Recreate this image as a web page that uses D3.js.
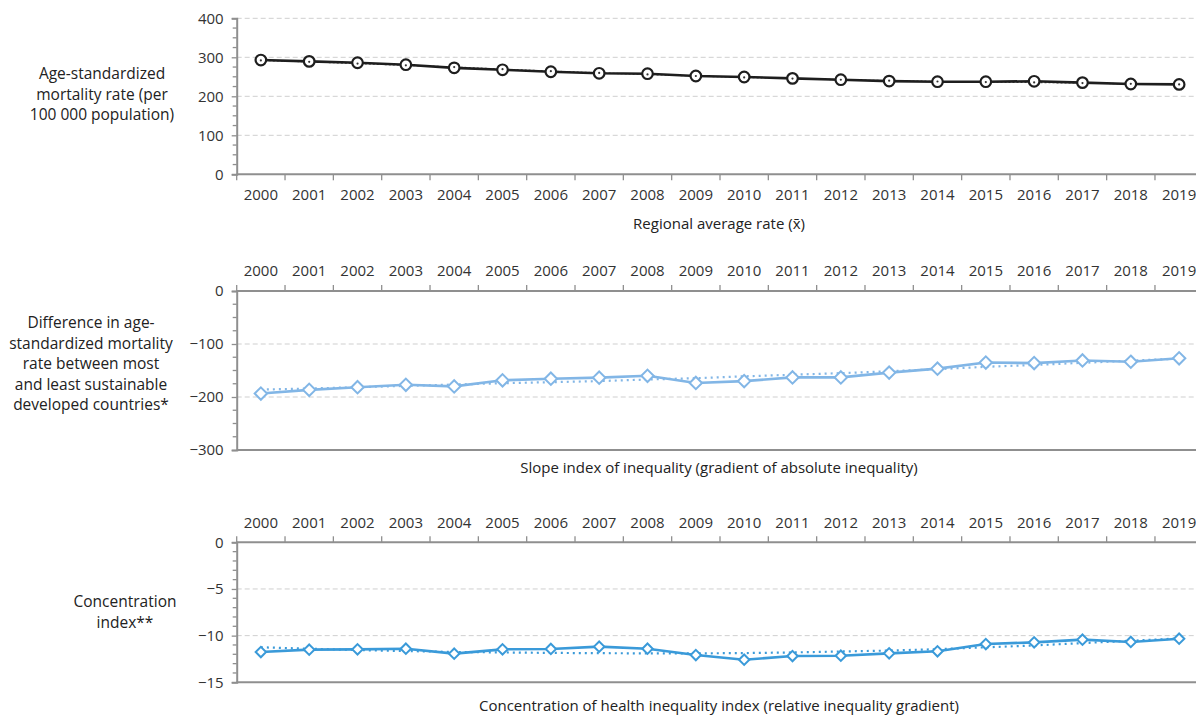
<!DOCTYPE html>
<html>
<head>
<meta charset="utf-8">
<script src="https://cdn.jsdelivr.net/npm/d3@7"></script>
<style>
  html, body { margin: 0; padding: 0; background: #fff; }
  svg { display: block; font-family: "Open Sans", "Noto Sans", sans-serif; }
</style>
</head>
<body>
<svg id="chart" width="1196" height="715"></svg>
<script>
// Years shared by all three panels
const years = [2000, 2001, 2002, 2003, 2004, 2005, 2006, 2007, 2008, 2009,
               2010, 2011, 2012, 2013, 2014, 2015, 2016, 2017, 2018, 2019];

// Regional average age-standardized mortality rate
const avgRate = [293, 289.5, 286, 281, 273, 268, 263, 259, 258, 252,
                 249.5, 246, 242.5, 239, 237.5, 237.5, 238.5, 235, 231.5, 230.5];
const avgTrend = [292, 288.5, 284, 279.5, 275, 269.5, 264.5, 260, 256, 252,
                  248.5, 245.5, 242.5, 240, 238, 236.5, 235.5, 234, 232, 230.5];

// Slope index of inequality
const sii = [-193.5, -186.5, -181.5, -177, -180, -168.5, -165.5, -163.5, -160, -173.5,
             -170, -163, -163, -154, -146.5, -135, -136, -131, -133.5, -127];
const siiTrend = [-186, -184, -181.5, -179, -176.5, -174, -172, -170, -167, -164.5,
                  -161, -158, -155, -151.5, -147.5, -143, -139.5, -135.5, -131.5, -127.5];

// Concentration index
const ci = [-11.76, -11.5, -11.47, -11.4, -11.93, -11.47, -11.43, -11.18, -11.4, -12.08,
            -12.58, -12.19, -12.15, -11.9, -11.68, -10.9, -10.72, -10.43, -10.68, -10.33];
const ciTrend = [-11.25, -11.4, -11.55, -11.65, -11.75, -11.8, -11.85, -11.88, -11.9, -11.9,
                 -11.87, -11.8, -11.7, -11.6, -11.45, -11.25, -11.05, -10.8, -10.55, -10.3];

// Tick values
const ticks1 = [0, 100, 200, 300, 400];
const ticks2 = [0, -100, -200, -300];
const ticks3 = [0, -5, -10, -15];

const svg = d3.select("#chart");
const textColor = "#333";
const axisColor = "#8f8f8f";
const gridColor = "#cfcfcf";
const tickFont = "15px";

const x = d3.scaleBand().domain(years).range([236.7, 1203.3]).padding(0);
const cx = d => x(d) + x.bandwidth() / 2;

function panel(cfg) {
  const g = svg.append("g");
  const y = d3.scaleLinear().domain(cfg.domain).range(cfg.range);
  const [x0, x1] = x.range();

  // dashed gridlines
  g.selectAll(".grid").data(cfg.grid).join("line")
    .attr("x1", x0).attr("x2", x1)
    .attr("y1", d => y(d)).attr("y2", d => y(d))
    .attr("stroke", gridColor).attr("stroke-width", 1).attr("stroke-dasharray", "5,3");

  // y axis with minor ticks
  const yAxis = d3.axisLeft(y).tickValues(cfg.ticks)
    .tickSize(5).tickPadding(8)
    .tickFormat(d => d < 0 ? "\u2212" + Math.abs(d) : d);
  const ya = g.append("g").attr("transform", `translate(${x0},0)`).call(yAxis);
  ya.select(".domain").attr("stroke", axisColor).attr("stroke-width", 2);
  ya.selectAll(".tick line").attr("stroke", axisColor).attr("stroke-width", 1.3);
  ya.selectAll(".tick text").attr("fill", textColor).style("font-size", tickFont)
    .style("font-family", "'Open Sans', sans-serif");
  const minor = d3.range(cfg.domain[0], cfg.domain[1] + 1e-9, cfg.minorStep)
    .filter(v => !cfg.ticks.includes(Math.round(v * 1000) / 1000));
  g.selectAll(".minor").data(minor).join("line")
    .attr("x1", x0 - 4).attr("x2", x0)
    .attr("y1", d => y(d)).attr("y2", d => y(d))
    .attr("stroke", axisColor).attr("stroke-width", 1.3);

  // category axis line (top or bottom)
  const axisY = cfg.axisTop ? y(cfg.domain[1]) : y(cfg.domain[0]);
  const dir = cfg.axisTop ? -1 : 1;
  g.append("line").attr("x1", x0).attr("x2", x1).attr("y1", axisY).attr("y2", axisY)
    .attr("stroke", axisColor).attr("stroke-width", 2);
  g.selectAll(".xt").data(years).join("line")
    .attr("x1", d => x(d)).attr("x2", d => x(d))
    .attr("y1", axisY).attr("y2", axisY + dir * 6)
    .attr("stroke", axisColor).attr("stroke-width", 1.3);
  g.selectAll(".xl").data(years).join("text")
    .attr("x", d => cx(d)).attr("y", axisY + dir * 20)
    .attr("dy", "0.35em").attr("text-anchor", "middle")
    .attr("fill", textColor).style("font-size", tickFont).text(d => d);

  // opposite frame line for the inequality panels
  if (cfg.axisTop) {
    const by = y(cfg.domain[0]);
    g.append("line").attr("x1", x0).attr("x2", x1).attr("y1", by).attr("y2", by)
      .attr("stroke", axisColor).attr("stroke-width", 2);
  }

  // caption under the panel
  g.append("text").attr("x", 719).attr("y", cfg.captionY)
    .attr("text-anchor", "middle").attr("fill", "#222").style("font-size", "15px")
    .text(cfg.caption);

  // left title
  const t = g.append("text").attr("text-anchor", "middle").attr("fill", "#222")
    .style("font-size", "15.5px");
  cfg.title.forEach((line, i) => {
    t.append("tspan").attr("x", cfg.titleX).attr("y", cfg.titleY + i * 20.6).text(line);
  });

  // trend (dotted)
  const line = d3.line().x((d, i) => cx(years[i])).y(d => y(d));
  g.append("path").datum(cfg.trend).attr("d", line)
    .attr("fill", "none").attr("stroke", cfg.trendColor)
    .attr("stroke-width", cfg.trendWidth).attr("stroke-dasharray", cfg.trendDash);

  // values
  g.append("path").datum(cfg.values).attr("d", line)
    .attr("fill", "none").attr("stroke", cfg.color).attr("stroke-width", 2.6)
    .attr("stroke-linejoin", "round");

  // markers
  if (cfg.marker === "circle") {
    g.selectAll(".m").data(cfg.values).join("circle")
      .attr("cx", (d, i) => cx(years[i])).attr("cy", d => y(d)).attr("r", 5.3)
      .attr("fill", "#fff").attr("stroke", cfg.color).attr("stroke-width", 2.2);
    g.selectAll(".md").data(cfg.trend).join("circle")
      .attr("cx", (d, i) => cx(years[i])).attr("cy", d => y(d)).attr("r", 1.1)
      .attr("fill", "#333");
  } else {
    const s = cfg.diamond;
    g.selectAll(".m").data(cfg.values).join("path")
      .attr("d", `M0,${-s}L${s},0L0,${s}L${-s},0Z`)
      .attr("transform", (d, i) => `translate(${cx(years[i])},${y(d)})`)
      .attr("fill", "#fff").attr("stroke", cfg.color).attr("stroke-width", 2);
  }
}

panel({
  domain: [0, 400], range: [174.3, 18.3], ticks: ticks1, minorStep: 25,
  grid: [100, 200, 300, 400], axisTop: false,
  values: avgRate, trend: avgTrend, color: "#1e1e1e",
  trendColor: "#555", trendWidth: 1.3, trendDash: "2,2",
  marker: "circle",
  caption: "Regional average rate (x\u0304)", captionY: 229,
  title: ["Age-standardized", "mortality rate (per", "100 000 population)"],
  titleX: 102, titleY: 79
});

panel({
  domain: [-300, 0], range: [450, 291], ticks: ticks2, minorStep: 25,
  grid: [-100, -200], axisTop: true,
  values: sii, trend: siiTrend, color: "#82b6e6",
  trendColor: "#82b6e6", trendWidth: 2.2, trendDash: "2,4",
  marker: "diamond", diamond: 6.2,
  caption: "Slope index of inequality (gradient of absolute inequality)", captionY: 473,
  title: ["Difference in age-", "standardized mortality", "rate between most",
          "and least sustainable", "developed countries*"],
  titleX: 91, titleY: 328
});

panel({
  domain: [-15, 0], range: [682.3, 542.3], ticks: ticks3, minorStep: 1,
  grid: [-5, -10], axisTop: true,
  values: ci, trend: ciTrend, color: "#3a9ad9",
  trendColor: "#3a9ad9", trendWidth: 2.2, trendDash: "2,4",
  marker: "diamond", diamond: 5.2,
  caption: "Concentration of health inequality index (relative inequality gradient)", captionY: 711,
  title: ["Concentration", "index**"], titleX: 125, titleY: 607
});
</script>
</body>
</html>
